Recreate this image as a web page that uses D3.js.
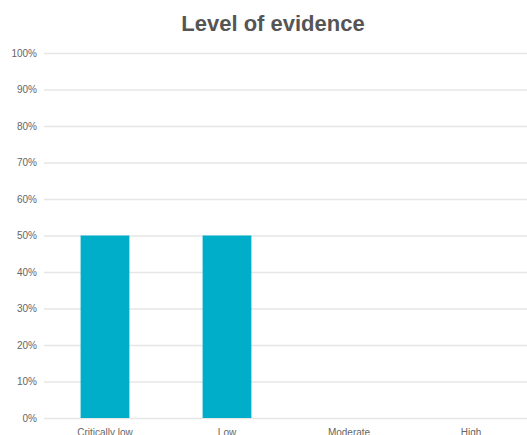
<!DOCTYPE html>
<html>
<head>
<meta charset="utf-8">
<script src="https://cdn.jsdelivr.net/npm/d3@7"></script>
<style>
  body { margin: 0; background: #fff; }
  text { font-family: "Liberation Sans", Arial, sans-serif; }
</style>
</head>
<body>
<script>
// data
var categories = ["Critically low", "Low", "Moderate", "High"];
var values = [50, 50, 0, 0];
var yTicks = [0, 10, 20, 30, 40, 50, 60, 70, 80, 90, 100];

let margin = {top: 53, right: 0, bottom: 17, left: 44};
let width = 527 - margin.left - margin.right,
	height = 435 - margin.top - margin.bottom;

var svg = d3.select("body").append("svg")
	.attr("width", 527)
	.attr("height", 435);

svg.append("text")
	.attr("x", 273)
	.attr("y", 31)
	.attr("text-anchor", "middle")
	.attr("font-size", "22px")
	.attr("font-weight", "bold")
	.attr("fill", "#555")
	.text("Level of evidence");

let group = svg.append("g").attr("transform", "translate(" + margin.left + "," + margin.top + ")");

var x = d3.scaleBand()
	.domain(categories)
	.range([0, 488])
	.paddingInner(0.6)
	.paddingOuter(0.3);

var y = d3.scaleLinear()
	.domain([0, 100])
	.range([height, 0]);

// gridlines + labels
var yAxis = d3.axisLeft(y)
	.tickValues(yTicks)
	.tickSize(-width)
	.tickPadding(7)
	.tickFormat(function (d) { return d + "%"; });

var yg = group.append("g").attr("class", "y-axis").call(yAxis);
yg.select(".domain").remove();
yg.selectAll(".tick line").attr("stroke", "#e6e6e6").attr("stroke-width", 1.5);
yg.selectAll(".tick text").attr("fill", "#666").attr("font-size", "10px");

// bars
group.selectAll("rect.bar")
	.data(values)
	.enter().append("rect")
	.attr("class", "bar")
	.attr("x", function (d, i) { return x(categories[i]); })
	.attr("y", function (d) { return y(d); })
	.attr("width", x.bandwidth())
	.attr("height", function (d) { return height - y(d); })
	.attr("fill", "#00aec9");

// x labels
var xAxis = d3.axisBottom(x).tickSize(0).tickPadding(11);
var xg = group.append("g").attr("transform", "translate(0," + height + ")").call(xAxis);
xg.select(".domain").remove();
xg.selectAll(".tick text").attr("fill", "#666").attr("font-size", "10px");
</script>
</body>
</html>
